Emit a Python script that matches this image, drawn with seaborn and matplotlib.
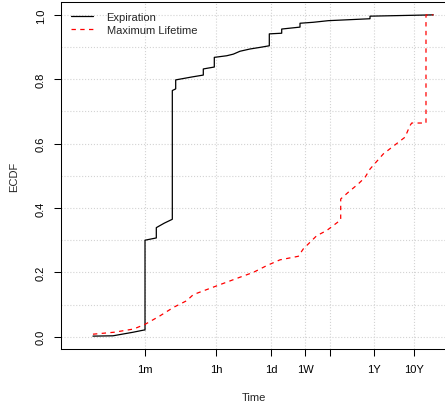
import numpy as np
import pandas as pd
import seaborn as sns
import matplotlib.pyplot as plt
from matplotlib.ticker import FixedLocator, NullLocator

# ECDF curves, time in seconds
exp_time = [3, 9.5, 30, 57, 60, 60, 115, 115, 182, 289, 289, 351, 351, 882,
            1720, 1720, 3240, 3240, 6614, 9672, 14223, 25293, 44978, 76825,
            76825, 156860, 156860, 449780, 449780, 967200, 2293700,
            2.53e7, 2.53e7, 9.68e8]
exp_ecdf = [0.002, 0.003, 0.014, 0.021, 0.021, 0.300, 0.307, 0.339, 0.353,
            0.365, 0.765, 0.770, 0.798, 0.807, 0.813, 0.832, 0.838, 0.868,
            0.873, 0.878, 0.887, 0.894, 0.899, 0.904, 0.941, 0.943, 0.956,
            0.962, 0.974, 0.977, 0.982, 0.988, 0.996, 1.0]

life_time = [3, 10, 31, 61, 142, 306, 661, 967, 3512, 14223, 30590, 66144,
             142230, 407900, 543880, 1176500, 2091800, 4683000, 4683000,
             7253000, 1.29e7, 1.897e7, 2.53e7, 5.44e7, 1.29e8, 1.897e8,
             2.53e8, 2.79e8, 6.35e8, 6.35e8, 9.68e8]
life_ecdf = [0.008, 0.014, 0.024, 0.039, 0.065, 0.091, 0.112, 0.131, 0.157,
             0.185, 0.200, 0.221, 0.239, 0.250, 0.273, 0.314, 0.330, 0.363,
             0.428, 0.449, 0.475, 0.495, 0.521, 0.568, 0.604, 0.620, 0.656,
             0.664, 0.664, 1.0, 1.0]

tick_secs = [60, 3600, 86400, 604800, 2592000, 31536000, 315360000]
tick_labels = ['1m', '1h', '1d', '1W', '', '1Y', '10Y']

sns.set_style('white')
plt.rcParams['font.family'] = ['Liberation Sans', 'DejaVu Sans']
plt.rcParams['font.size'] = 8

fig = plt.figure(figsize=(4.45, 4.06), dpi=100)
ax = fig.add_axes([61 / 445, 56 / 406, 386 / 445, 347 / 406])

exp_df = pd.DataFrame({'time': exp_time, 'ecdf': exp_ecdf})
life_df = pd.DataFrame({'time': life_time, 'ecdf': life_ecdf})
sns.lineplot(data=exp_df, x='time', y='ecdf', sort=False, estimator=None,
             color='black', lw=0.9, ax=ax, label='Expiration')
sns.lineplot(data=life_df, x='time', y='ecdf', sort=False, estimator=None,
             color='red', lw=0.9, dashes=False, ax=ax, label='Maximum Lifetime')
ax.lines[1].set_dashes((3.5, 3.5))

ax.set_xscale('log')
ax.set_xlim(10 ** -0.322, 10 ** 9.328)
ax.set_ylim(-0.038, 1.040)

ax.xaxis.set_major_locator(FixedLocator(tick_secs))
ax.xaxis.set_minor_locator(NullLocator())
ax.set_xticklabels(tick_labels)
ax.set_yticks(np.arange(0, 1.01, 0.2))
ax.set_yticklabels(['0.0', '0.2', '0.4', '0.6', '0.8', '1.0'],
                   rotation=90, va='center')
ax.yaxis.set_minor_locator(FixedLocator(np.arange(0.1, 1.0, 0.2)))
ax.tick_params(which='major', length=5, width=0.75, direction='out',
               pad=6, colors='black', labelsize=8)
ax.tick_params(which='minor', length=0)
ax.tick_params(axis='x', bottom=True)
ax.tick_params(axis='y', left=True)

ax.grid(True, which='major', axis='x', color='lightgray', ls=':', lw=0.8)
ax.grid(True, which='both', axis='y', color='lightgray', ls=':', lw=0.8)

for side in ax.spines.values():
    side.set_color('black')
    side.set_linewidth(0.75)

ax.set_xlabel('Time', fontsize=8, labelpad=13)
ax.set_ylabel('ECDF', fontsize=8, labelpad=12)

ax.legend(loc='upper left', bbox_to_anchor=(0.026, 0.972), frameon=False,
          borderaxespad=0, borderpad=0, handlelength=2.0, handletextpad=1.2,
          labelspacing=0.3, fontsize=8)

plt.savefig('out.png', dpi=100)
plt.close(fig)
